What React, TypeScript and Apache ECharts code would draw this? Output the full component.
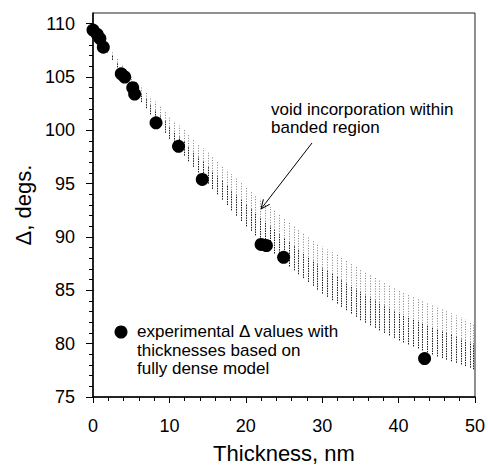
import React, { useEffect, useRef } from "react";
import * as echarts from "echarts";

// Experimental points (thickness nm, Δ degs)
const thickness = [0, 0.55, 0.9, 1.35, 3.7, 4.15, 5.2, 5.45, 8.25, 11.2, 14.3, 22.0, 22.7, 24.95, 43.4];
const delta = [109.4, 109.0, 108.6, 107.8, 105.3, 105.0, 104.0, 103.4, 100.7, 98.5, 95.4, 89.3, 89.2, 88.1, 78.6];

// Banded region (void incorporation)
const bandThickness = [0, 5, 10, 15, 20, 25, 30, 35, 40, 45, 50];
const bandUpper = [109.6, 105.0, 101.3, 97.9, 94.7, 91.7, 89.1, 87.0, 85.0, 83.4, 81.9];
const bandLower = [109.4, 103.8, 99.2, 95.0, 91.0, 87.6, 84.7, 82.2, 80.3, 78.8, 77.6];

const xTicks = [0, 10, 20, 30, 40, 50];
const yTicks = [75, 80, 85, 90, 95, 100, 105, 110];
const yMinorTicks = [
  75, 76, 77, 78, 79, 80, 81, 82, 83, 84, 85, 86, 87, 88, 89, 90, 91, 92, 93, 94, 95,
  96, 97, 98, 99, 100, 101, 102, 103, 104, 105, 106, 107, 108, 109, 110,
];

const FONT = '"Liberation Sans", Arial, Helvetica, sans-serif';

export default function App() {
  const ref = useRef<HTMLDivElement>(null);

  useEffect(() => {
    if (!ref.current) return;
    const chart = echarts.init(ref.current, undefined, { renderer: "svg" });

    const bandData = bandThickness.map((t, i) => [t, bandLower[i], bandUpper[i]]);

    const stripe = (x: number, yl: number, yu: number, out: any[]) => {
      const xx = Math.round(x) + 0.5;
      const ym = yl + 0.55 * (yu - yl);
      out.push({
        type: "line",
        shape: { x1: xx, y1: yl, x2: xx, y2: ym },
        style: { stroke: "#1a1a1a", lineWidth: 1, lineDash: [1.5, 1] },
      });
      out.push({
        type: "line",
        shape: { x1: xx, y1: ym, x2: xx, y2: yu },
        style: { stroke: "#808080", lineWidth: 1, lineDash: [1, 1.6] },
      });
    };

    // Arrow geometry for annotation
    const ax1 = 312, ay1 = 143, ax2 = 261, ay2 = 209;
    const dx = ax1 - ax2, dy = ay1 - ay2;
    const len = Math.hypot(dx, dy);
    const ux = dx / len, uy = dy / len;
    const ang = (24 * Math.PI) / 180;
    const hl = 10;
    const w1 = [ax2 + hl * (ux * Math.cos(ang) - uy * Math.sin(ang)), ay2 + hl * (ux * Math.sin(ang) + uy * Math.cos(ang))];
    const w2 = [ax2 + hl * (ux * Math.cos(-ang) - uy * Math.sin(-ang)), ay2 + hl * (ux * Math.sin(-ang) + uy * Math.cos(-ang))];

    chart.setOption({
      animation: false,
      backgroundColor: "#ffffff",
      textStyle: { fontFamily: FONT, color: "#000" },
      grid: {
        left: 93,
        right: 10,
        top: 13,
        bottom: 73,
        show: true,
        borderColor: "#222",
        borderWidth: 1,
        backgroundColor: "transparent",
      },
      xAxis: {
        type: "value",
        min: 0,
        max: 50,
        interval: 10,
        name: "Thickness, nm",
        nameLocation: "middle",
        nameGap: 45,
        nameTextStyle: { fontSize: 22, fontFamily: FONT, color: "#000" },
        axisLine: { show: true, onZero: false, lineStyle: { color: "#000", width: 1.5 } },
        axisTick: { show: true, length: 6, lineStyle: { color: "#000", width: 1 }, customValues: xTicks },
        minorTick: { show: true, splitNumber: 5, length: 4, lineStyle: { color: "#000", width: 1 } },
        axisLabel: { fontSize: 18, fontFamily: FONT, color: "#000", margin: 20, customValues: xTicks },
        splitLine: { show: false },
      },
      yAxis: [
        {
          type: "value",
          min: 75,
          max: 111,
          interval: 5,
          name: "Δ, degs.",
          nameLocation: "middle",
          nameGap: 57,
          nameTextStyle: { fontSize: 22, fontFamily: FONT, color: "#000" },
          axisLine: { show: true, onZero: false, lineStyle: { color: "#000", width: 1.5 } },
          axisTick: { show: true, length: 7, lineStyle: { color: "#000", width: 1 }, customValues: yTicks },
          axisLabel: { fontSize: 18, fontFamily: FONT, color: "#000", margin: 18, customValues: yTicks },
          splitLine: { show: false },
        },
        {
          type: "value",
          position: "left",
          min: 75,
          max: 111,
          interval: 1,
          axisLine: { show: false },
          axisTick: { show: true, length: 4, lineStyle: { color: "#000", width: 1 }, customValues: yMinorTicks },
          axisLabel: { show: false },
          splitLine: { show: false },
        },
      ],
      series: [
        {
          type: "custom",
          name: "band",
          clip: true,
          silent: true,
          encode: { x: 0, y: [1, 2] },
          data: bandData,
          renderItem: (params: any, api: any) => {
            const i = params.dataIndex;
            const children: any[] = [];
            const n = bandThickness.length;
            if (i < n - 1) {
              const a0 = api.coord([bandThickness[i], bandLower[i]]);
              const b0 = api.coord([bandThickness[i], bandUpper[i]]);
              const a1 = api.coord([bandThickness[i + 1], bandLower[i + 1]]);
              const b1 = api.coord([bandThickness[i + 1], bandUpper[i + 1]]);
              const count = Math.max(1, Math.round((a1[0] - a0[0]) / 4.8));
              for (let k = 0; k < count; k++) {
                const f = k / count;
                const x = a0[0] + f * (a1[0] - a0[0]);
                const yl = a0[1] + f * (a1[1] - a0[1]);
                const yu = b0[1] + f * (b1[1] - b0[1]);
                stripe(x, yl, yu, children);
              }
            } else {
              const a = api.coord([bandThickness[i], bandLower[i]]);
              const b = api.coord([bandThickness[i], bandUpper[i]]);
              stripe(a[0] - 2, a[1], b[1], children);
            }
            return { type: "group", children };
          },
          z: 1,
        },
        {
          type: "scatter",
          name: "experimental",
          symbol: "circle",
          symbolSize: 13,
          itemStyle: { color: "#000", opacity: 1 },
          data: thickness.map((t, i) => [t, delta[i]]),
          z: 3,
        },
      ],
      graphic: [
        {
          type: "circle",
          shape: { cx: 121, cy: 332, r: 6.5 },
          style: { fill: "#000" },
        },
        {
          type: "text",
          x: 137,
          y: 322,
          style: {
            text: "experimental Δ values with\nthicknesses based on\nfully dense model",
            font: `17px ${FONT}`,
            fill: "#000",
            lineHeight: 18.7,
          },
        },
        {
          type: "text",
          x: 271,
          y: 100,
          style: {
            text: "void incorporation within\nbanded region",
            font: `17px ${FONT}`,
            fill: "#000",
            lineHeight: 18,
          },
        },
        {
          type: "line",
          shape: { x1: ax1, y1: ay1, x2: ax2, y2: ay2 },
          style: { stroke: "#000", lineWidth: 1 },
        },
        {
          type: "polyline",
          shape: { points: [w1, [ax2, ay2], w2] },
          style: { stroke: "#000", lineWidth: 1, fill: null },
        },
      ],
    });

    return () => chart.dispose();
  }, []);

  return (
    <div
      ref={ref}
      style={{ position: "fixed", left: 0, top: 0, width: 488, height: 470, background: "#fff" }}
    />
  );
}
